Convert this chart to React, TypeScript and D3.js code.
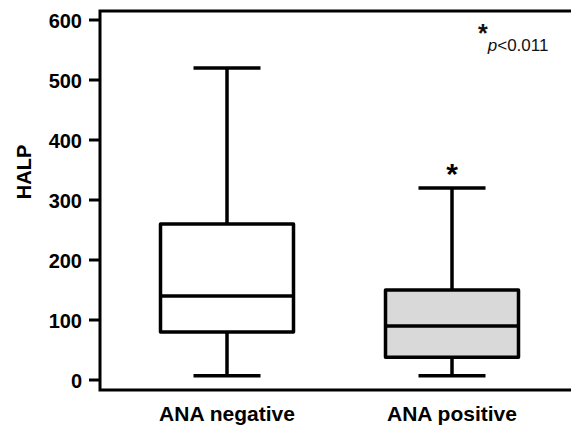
import * as d3 from "d3";

const categories = ["ANA negative", "ANA positive"];
const whiskerLow = [7, 7];
const q1 = [80, 38];
const median = [140, 90];
const q3 = [260, 150];
const whiskerHigh = [520, 320];
const boxFill = ["#ffffff", "#d9d9d9"];
const yTicks = [0, 100, 200, 300, 400, 500, 600];
const yLabel = "HALP";
const sigMarks = ["", "*"];

const W = 571;
const H = 425;
const FONT = "'Liberation Sans', Arial, sans-serif";

export default function App() {
  const frameLeft = 100;
  const frameTop = 11;
  const frameBottom = 390;

  const y = d3.scaleLinear().domain([0, 600]).range([380, 20]);
  const x = d3.scalePoint<string>().domain(categories).range([114.5, 564.5]).padding(0.5);
  const boxW = 133;
  const capW = 67;

  const frame = d3.path();
  frame.moveTo(W, frameTop);
  frame.lineTo(frameLeft, frameTop);
  frame.lineTo(frameLeft, frameBottom);
  frame.lineTo(W, frameBottom);

  return (
    <div style={{ position: "absolute", left: 0, top: 0 }}>
      <svg width={W} height={H} viewBox={`0 0 ${W} ${H}`} style={{ display: "block", fontFamily: FONT }}>
        <rect width={W} height={H} fill="#fff" />
        <path d={frame.toString()} fill="none" stroke="#000" strokeWidth={3} />

        {yTicks.map((t) => (
          <g key={t}>
            <line x1={frameLeft - 11} x2={frameLeft} y1={y(t)} y2={y(t)} stroke="#000" strokeWidth={3} />
            <text x={82} y={y(t)} dy="0.42em" textAnchor="end" fontSize={20} fontWeight="bold" fill="#000">
              {t}
            </text>
          </g>
        ))}

        <text
          transform={`translate(31,${172}) rotate(-90)`}
          textAnchor="middle"
          fontSize={20}
          fontWeight="bold"
          fill="#000"
        >
          {yLabel}
        </text>

        {categories.map((c, i) => {
          const cx = x(c) ?? 0;
          return (
            <g key={c} stroke="#000" strokeWidth={3.5} strokeLinecap="butt">
              <line x1={cx} x2={cx} y1={y(whiskerHigh[i])} y2={y(q3[i])} />
              <line x1={cx} x2={cx} y1={y(q1[i])} y2={y(whiskerLow[i])} />
              <line x1={cx - capW / 2} x2={cx + capW / 2} y1={y(whiskerHigh[i])} y2={y(whiskerHigh[i])} />
              <line x1={cx - capW / 2} x2={cx + capW / 2} y1={y(whiskerLow[i])} y2={y(whiskerLow[i])} />
              <rect
                x={cx - boxW / 2}
                y={y(q3[i])}
                width={boxW}
                height={y(q1[i]) - y(q3[i])}
                fill={boxFill[i]}
                strokeLinejoin="round"
              />
              <line x1={cx - boxW / 2} x2={cx + boxW / 2} y1={y(median[i])} y2={y(median[i])} />
              {sigMarks[i] && (
                <text
                  x={cx}
                  y={y(whiskerHigh[i]) - 4}
                  textAnchor="middle"
                  fontSize={30}
                  fontWeight="bold"
                  stroke="none"
                  fill="#000"
                >
                  {sigMarks[i]}
                </text>
              )}
              <text
                x={cx}
                y={421}
                textAnchor="middle"
                fontSize={21}
                fontWeight="bold"
                stroke="none"
                fill="#000"
              >
                {c}
              </text>
            </g>
          );
        })}

        <text x={478} y={51} fill="#111" fontSize={17}>
          <tspan fontSize={25} fontWeight="bold" dy={-9}>*</tspan>
          <tspan fontStyle="italic" dy={9}>p</tspan>
          <tspan>{"<0.011"}</tspan>
        </text>
      </svg>
    </div>
  );
}
